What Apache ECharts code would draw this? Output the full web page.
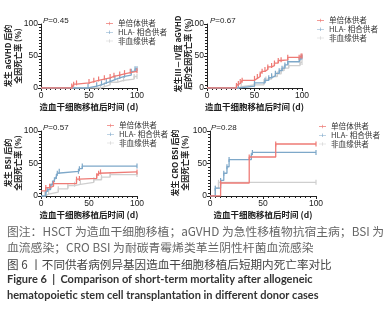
<!DOCTYPE html>
<html><head><meta charset="utf-8">
<script src="https://cdn.jsdelivr.net/npm/echarts@6/dist/echarts.min.js"></script>
<style>html,body{margin:0;padding:0;background:#fff}#c{width:390px;height:309px}</style>
</head><body><div id="c"></div>
<script>
// ---- data ----
const seriesNames = ['单倍体供者', 'HLA- 相合供者', '非血缘供者'];
const xTicks = [0, 50, 100];
const yTicks = [0, 50, 100];
const pValues = ['0.45', '0.67', '0.57', '0.28'];
const yTitles = [
  '发生 aGVHD 后的\n全因死亡率 (%)',
  '发生Ⅲ－Ⅳ度 aGVHD\n后的全因死亡率 (%)',
  '发生 BSI 后的\n全因死亡率 (%)',
  '发生 CRO BSI 后的\n全因死亡率 (%)'
];
const xTitle = '造血干细胞移植后时间 (d)';

// panel 1: aGVHD
const agvhdHaplo = [[0,0],[32,3],[34,6],[37,8],[50,10],[55,12],[60,14],[66,16],[72,18],[76,20],[82,22],[87,24],[93,26],[100,27]];
const agvhdHla   = [[0,0],[49,3],[58,5],[63,8],[68,10],[72,13],[77,16],[82,18],[87,20],[94,26],[98,30],[100,30]];
const agvhdUnrel = [[0,0],[62,2],[66,5],[72,9],[80,12],[86,14],[97,18],[100,18]];
// panel 2: grade III-IV aGVHD
const g34Haplo = [[0,0],[31,4],[33,7],[35,10],[37,12],[50,15],[53,18],[56,22],[58,26],[61,29],[64,33],[68,35],[71,39],[75,43],[78,44],[85,48],[97,48],[99,50],[100,50]];
const g34Hla   = [[0,0],[33,3],[50,8],[61,12],[65,16],[68,19],[72,23],[76,27],[79,31],[82,36],[85,41],[97,44],[99,48],[100,48]];
const g34Unrel = [[0,0],[33,2],[36,5],[50,5],[60,10],[62,14],[68,18],[74,22],[78,27],[81,31],[86,35],[98,40],[100,40]];
// panel 3: BSI
const bsiHaplo = [[0,8],[5,13],[9,15],[13,19],[37,26],[40,27],[58,31],[60,35],[62,37],[100,37]];
const bsiHla   = [[0,0],[5,5],[7,10],[10,15],[12,20],[14,25],[16,30],[17,35],[19,38],[39,38],[40,42],[43,46],[100,46]];
const bsiUnrel = [[0,0],[4,3],[8,6],[18,11],[28,16],[35,18],[41,21],[55,25],[63,29],[72,33],[100,33]];
// panel 4: CRO BSI
const croHaplo = [[0,0],[10,20],[37,60],[62,80],[100,80]];
const croHla   = [[0,0],[5,12],[10,24],[13,35],[16,45],[18,56],[39,62],[40,67],[100,67]];
const croUnrel = [[0,0],[5,12],[8,21],[100,21]];

const panels = [
  [agvhdHaplo, agvhdHla, agvhdUnrel],
  [g34Haplo, g34Hla, g34Unrel],
  [bsiHaplo, bsiHla, bsiUnrel],
  [croHaplo, croHla, croUnrel]
];

const captionCn = [
  '图注：HSCT 为造血干细胞移植；aGVHD 为急性移植物抗宿主病；BSI 为',
  '血流感染；CRO BSI 为耐碳青霉烯类革兰阴性杆菌血流感染'
];
const figTitleCn = '图 6 丨不同供者病例异基因造血干细胞移植后短期内死亡率对比';
const figTitleEn = [
  'Figure 6  |  Comparison of short-term mortality after allogeneic',
  'hematopoietic stem cell transplantation in different donor cases'
];

// ---- layout ----
const colors = ['#ee7b76', '#7ea8c9', '#cfcfcf'];
const FONT = '"Liberation Sans", "Noto Sans CJK SC", sans-serif';
const CJK = '"Noto Sans CJK SC", sans-serif';
const grids = [
  {left: 41, top: 24, width: 96, height: 64},
  {left: 207, top: 24, width: 95, height: 64},
  {left: 41, top: 131, width: 96, height: 65},
  {left: 210, top: 131, width: 106, height: 65}
];
const yNamePos = [[13, 56], [183, 54], [13, 163], [180, 163]];
const legendPos = [{left: 106, top: 19}, {left: 317, top: 16}, {left: 107, top: 121}, {left: 319, top: 122}];
const pPos = [[43, 21], [210, 21], [43, 128], [211, 128]];

const axisColor = '#222';
const xAxis = [], yAxis = [], series = [], legend = [], graphic = [];
grids.forEach((g, i) => {
  xAxis.push({
    type: 'value', gridIndex: i, min: xTicks[0], max: xTicks[2], interval: xTicks[1] - xTicks[0],
    axisLine: {lineStyle: {color: axisColor, width: 1}},
    axisTick: {show: true, length: 3, lineStyle: {color: axisColor}},
    minorTick: {show: true, splitNumber: 10, length: 2, lineStyle: {color: axisColor}},
    splitLine: {show: false},
    axisLabel: {fontSize: 8.5, color: '#222', margin: 3, fontFamily: FONT},
    name: xTitle, nameLocation: 'middle', nameGap: 15, nameMoveOverlap: false,
    nameTextStyle: {fontSize: 8.5, color: '#222', fontWeight: 'bold', fontFamily: CJK}
  });
  yAxis.push({
    type: 'value', gridIndex: i, min: yTicks[0], max: yTicks[2], interval: yTicks[1] - yTicks[0],
    axisLine: {show: true, lineStyle: {color: axisColor, width: 1}},
    axisTick: {show: true, length: 3, lineStyle: {color: axisColor}},
    minorTick: {show: true, splitNumber: 10, length: 2, lineStyle: {color: axisColor}},
    splitLine: {show: false},
    axisLabel: {fontSize: 8.5, color: '#222', margin: 3, fontFamily: FONT}
  });
  panels[i].forEach((d, k) => {
    series.push({
      type: 'line', name: seriesNames[k], xAxisIndex: i, yAxisIndex: i, step: 'end',
      data: d, color: colors[k], z: 10 - k,
      lineStyle: {width: 1.3, color: colors[k]},
      showSymbol: true, symbol: 'rect',
      symbolSize: (v, p) => (p.dataIndex === 0 ? 0 : [1.2, 5]),
      itemStyle: {color: colors[k]},
      animation: false, silent: true
    });
  });
  legend.push({
    data: seriesNames, orient: 'vertical', left: legendPos[i].left, top: legendPos[i].top,
    itemWidth: 7, itemHeight: 5, itemGap: 0, padding: 0,
    icon: 'path://M0,3.3h16v1.4h-16z M7.3,0h1.4v8h-1.4z',
    textStyle: {fontSize: 7.6, lineHeight: 8.8, color: '#333', fontFamily: CJK},
    selectedMode: false
  });
  graphic.push({
    type: 'text', left: pPos[i][0], top: pPos[i][1] - 4.5,
    style: {text: '{i|P}=' + pValues[i], font: '8px ' + FONT, fill: '#222',
      rich: {i: {fontStyle: 'italic', fontSize: 8, fontFamily: FONT, fill: '#222'}}}
  });
  graphic.push({
    type: 'text', x: yNamePos[i][0], y: yNamePos[i][1], rotation: Math.PI / 2,
    style: {text: yTitles[i], fontSize: 8, fontWeight: 'bold', fontFamily: CJK, lineHeight: 10,
      fill: '#222', align: 'center', verticalAlign: 'middle'}
  });
});

graphic.push({type: 'text', left: 7, top: 225.5, style: {text: captionCn[0], font: '11.8px ' + CJK, fill: '#666'}});
graphic.push({type: 'text', left: 7, top: 242, style: {text: captionCn[1], font: '11.8px ' + CJK, fill: '#666'}});
graphic.push({type: 'text', left: 7, top: 259, style: {text: figTitleCn, font: '11.6px ' + CJK, fill: '#444'}});
graphic.push({type: 'text', left: 7, top: 274, style: {text: figTitleEn[0], font: 'bold 11px Lato, sans-serif', fill: '#333'}});
graphic.push({type: 'text', left: 7, top: 290, style: {text: figTitleEn[1], font: 'bold 11px Lato, sans-serif', fill: '#333'}});

const chart = echarts.init(document.getElementById('c'), null, {renderer: 'canvas'});
chart.setOption({
  animation: false,
  textStyle: {fontFamily: FONT},
  grid: grids.map(g => Object.assign({containLabel: false}, g)),
  xAxis, yAxis, series, legend, graphic
});
</script></body></html>
